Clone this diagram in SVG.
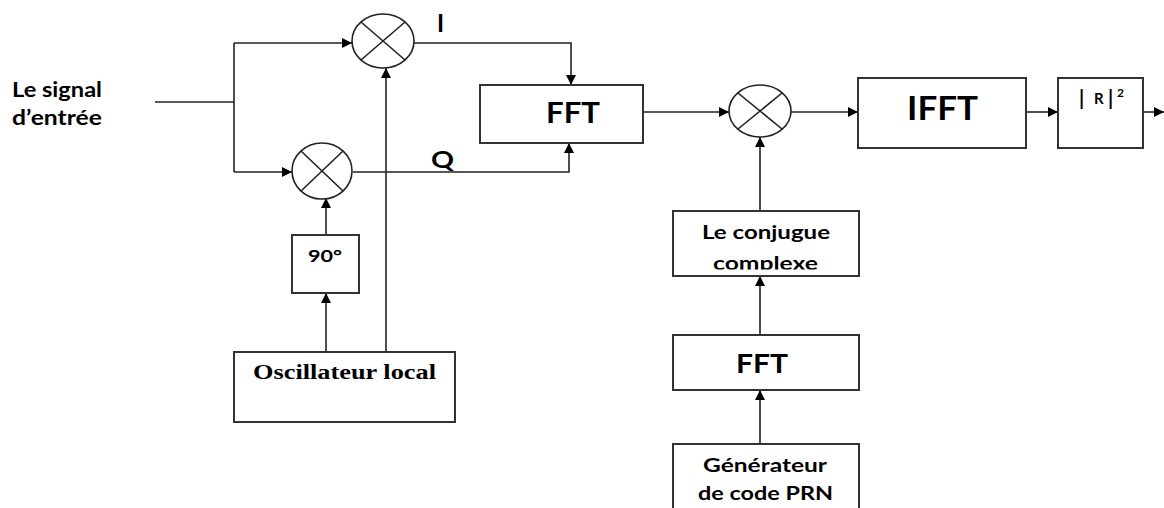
<svg xmlns="http://www.w3.org/2000/svg" width="1164" height="508" viewBox="0 0 1164 508">
<style>
.box{fill:#fff;stroke:#333;stroke-width:2}
.mix{fill:#fff;stroke:#222;stroke-width:1.6}
.ln{fill:none;stroke:#222;stroke-width:1.6}
.t{font-family:Lato,"Liberation Sans",sans-serif;font-weight:bold;fill:#000}
.s{font-family:"Liberation Serif",serif;font-weight:bold;fill:#000}
</style>
<defs>
<marker id="ah" viewBox="0 0 10 10" refX="10" refY="5" markerWidth="10" markerHeight="10" markerUnits="userSpaceOnUse" orient="auto">
<path d="M0,0 L10,5 L0,10 z" fill="#000"/>
</marker>
<clipPath id="conjclip"><rect x="673" y="211" width="186" height="58.5"/></clipPath>
</defs>
<g id="connectors">
<path class="ln" d="M155,102 H234"/>
<path class="ln" d="M234,43 V172"/>
<path class="ln" d="M234,43 H352" marker-end="url(#ah)"/>
<path class="ln" d="M234,172 H292" marker-end="url(#ah)"/>
<path class="ln" d="M414,43 H571 V85" marker-end="url(#ah)"/>
<path class="ln" d="M353,172 H569 V143" marker-end="url(#ah)"/>
<path class="ln" d="M386,352 V68" marker-end="url(#ah)"/>
<path class="ln" d="M326,352 V293" marker-end="url(#ah)"/>
<path class="ln" d="M326,235 V198" marker-end="url(#ah)"/>
<path class="ln" d="M643,112 H729" marker-end="url(#ah)"/>
<path class="ln" d="M760,211 V137" marker-end="url(#ah)"/>
<path class="ln" d="M760,335 V276" marker-end="url(#ah)"/>
<path class="ln" d="M760,444 V390" marker-end="url(#ah)"/>
<path class="ln" d="M791,112 H858" marker-end="url(#ah)"/>
<path class="ln" d="M1026,112 H1058" marker-end="url(#ah)"/>
<path class="ln" d="M1143,112 H1164" marker-end="url(#ah)"/>
</g>
<g id="input">
<text class="t" x="12" y="97" font-size="21" textLength="90" lengthAdjust="spacingAndGlyphs">Le signal</text>
<text class="t" x="12" y="125" font-size="21" textLength="90" lengthAdjust="spacingAndGlyphs">d’entrée</text>
</g>
<g id="mixer1">
<ellipse class="mix" cx="383" cy="41" rx="31" ry="27"/>
<path class="ln" d="M361,22 L405,60 M405,22 L361,60"/>
</g>
<g id="mixer2">
<ellipse class="mix" cx="322" cy="171" rx="30" ry="28"/>
<path class="ln" d="M301,151 L343,191 M343,151 L301,191"/>
</g>
<g id="labelI"><text class="t" x="437" y="32" font-size="24">I</text></g>
<g id="labelQ"><text class="t" x="431" y="168" font-size="23" textLength="23" lengthAdjust="spacingAndGlyphs">Q</text></g>
<g id="phase90">
<rect class="box" x="292" y="235" width="67" height="58"/>
<text class="t" x="308" y="262" font-size="17" textLength="34" lengthAdjust="spacingAndGlyphs">90°</text>
</g>
<g id="oscillator">
<rect class="box" x="234" y="352" width="221" height="70"/>
<text class="s" x="253" y="379" font-size="21" textLength="183" lengthAdjust="spacingAndGlyphs">Oscillateur local</text>
</g>
<g id="fft1">
<rect class="box" x="480" y="85" width="163" height="58"/>
<text class="t" x="546" y="123" font-size="28" textLength="54" lengthAdjust="spacingAndGlyphs">FFT</text>
</g>
<g id="mixer3">
<ellipse class="mix" cx="760" cy="111" rx="31" ry="26"/>
<path class="ln" d="M738,93 L782,129 M782,93 L738,129"/>
</g>
<g id="ifft">
<rect class="box" x="858" y="78" width="168" height="70"/>
<text class="t" x="907" y="120" font-size="32" textLength="71" lengthAdjust="spacingAndGlyphs">IFFT</text>
</g>
<g id="power">
<rect class="box" x="1058" y="78" width="85" height="70"/>
<text class="t" x="1079" y="105" font-size="20" font-weight="900">|<tspan x="1094" y="104" font-size="15">R</tspan><tspan x="1108" y="105">|</tspan><tspan x="1117" y="97" font-size="12">2</tspan></text>
</g>
<g id="conj">
<rect class="box" x="673" y="211" width="186" height="65"/>
<text class="t" x="702" y="239" font-size="18.5" textLength="128" lengthAdjust="spacingAndGlyphs">Le conjugue</text>
<text class="t" x="713" y="270" font-size="18.5" textLength="105" lengthAdjust="spacingAndGlyphs" clip-path="url(#conjclip)">complexe</text>
</g>
<g id="fft2">
<rect class="box" x="673" y="335" width="186" height="55"/>
<text class="t" x="736" y="373" font-size="27" textLength="52" lengthAdjust="spacingAndGlyphs">FFT</text>
</g>
<g id="prn">
<rect class="box" x="673" y="444" width="186" height="70"/>
<text class="t" x="703" y="472" font-size="18.5" textLength="124" lengthAdjust="spacingAndGlyphs">Générateur</text>
<text class="t" x="698" y="500" font-size="18.5" textLength="135" lengthAdjust="spacingAndGlyphs">de code PRN</text>
</g>
</svg>
